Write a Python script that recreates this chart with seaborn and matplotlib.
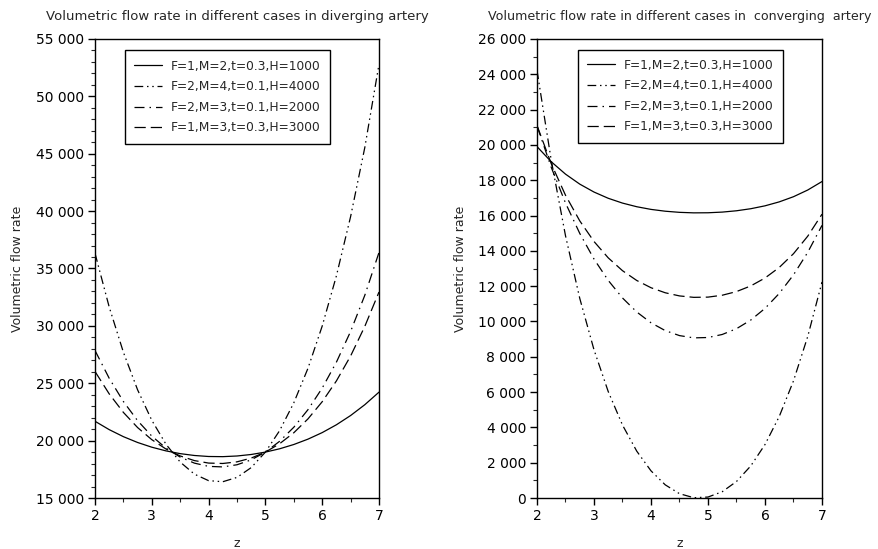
import numpy as np
import pandas as pd
import matplotlib
matplotlib.use("Agg")
import matplotlib.pyplot as plt
from matplotlib.ticker import FuncFormatter, MultipleLocator
import seaborn as sns

# ---------------- data ----------------
z = [2.0, 2.25, 2.5, 2.75, 3.0, 3.25, 3.5, 3.75, 4.0, 4.25, 4.5,
     4.75, 5.0, 5.25, 5.5, 5.75, 6.0, 6.25, 6.5, 6.75, 7.0]

labels = ["F=1,M=2,t=0.3,H=1000", "F=2,M=4,t=0.1,H=4000",
          "F=2,M=3,t=0.1,H=2000", "F=1,M=3,t=0.3,H=3000"]

# diverging artery
div_h1000 = [21688, 20958, 20345, 19838, 19427, 19105, 18866, 18705, 18617, 18603, 18661,
             18792, 19000, 19288, 19662, 20130, 20699, 21381, 22187, 23130, 24225]
div_h4000 = [36326, 31644, 27698, 24426, 21770, 19684, 18130, 17079, 16512, 16418, 16795,
             17650, 19000, 20869, 23292, 26312, 29982, 34359, 39521, 45543, 52800]
div_h2000 = [27855, 25434, 23409, 21740, 20394, 19343, 18564, 18039, 17756, 17709, 17897,
             18324, 19000, 19940, 21165, 22701, 24579, 26836, 29515, 32665, 36400]
div_h3000 = [26027, 24074, 22458, 21138, 20083, 19266, 18664, 18260, 18043, 18008, 18151,
             18479, 19000, 19729, 20686, 21896, 23390, 25203, 27376, 29956, 32950]

# converging artery
con_h1000 = [19905, 19046, 18346, 17780, 17331, 16977, 16705, 16499, 16348, 16245, 16181,
             16152, 16157, 16195, 16270, 16386, 16550, 16774, 17067, 17446, 17926]
con_h4000 = [24224, 19127, 14857, 11310, 8394, 6025, 4132, 2653, 1538, 745, 244,
             17, 54, 356, 936, 1816, 3029, 4618, 6637, 9152, 12236]
con_h2000 = [21081, 18730, 16710, 14989, 13536, 12324, 11331, 10537, 9925, 9482, 9199,
             9070, 9091, 9263, 9590, 10079, 10740, 11588, 12640, 13917, 15443]
con_h3000 = [21102, 18934, 17151, 15699, 14530, 13602, 12876, 12321, 11911, 11625, 11447,
             11366, 11379, 11486, 11693, 12013, 12461, 13060, 13839, 14832, 16076]

titles = ["Volumetric flow rate in different cases in diverging artery",
          "Volumetric flow rate in different cases in  converging  artery"]

# ---------------- style ----------------
sns.set_style("ticks")
plt.rcParams["font.family"] = ["DejaVu Sans"]
plt.rcParams["axes.linewidth"] = 1.0

dashes = ["-", (0, (7, 3, 1.2, 3, 1.2, 3)), (0, (8, 4, 1.2, 4)), (0, (9, 4))]

fig = plt.figure(figsize=(8.79, 5.49), dpi=100)
W, H = 879, 549
axL = fig.add_axes([95 / W, 1 - 498 / H, (379 - 95) / W, (498 - 39) / H])
axR = fig.add_axes([537 / W, 1 - 498 / H, (822 - 537) / W, (498 - 39) / H])

fmt = FuncFormatter(lambda v, p: f"{int(round(v)):,}".replace(",", " "))


def draw(ax, series, ylim, ymajor, yminor, title, title_size, legend_anchor, ylabel_x):
    frames = []
    for lab, vals in zip(labels, series):
        frames.append(pd.DataFrame({"z": z, "Q": vals, "case": lab}))
    df = pd.concat(frames, ignore_index=True)
    for lab, ls in zip(labels, dashes):
        sub = df[df["case"] == lab]
        sns.lineplot(data=sub, x="z", y="Q", ax=ax, color="black", lw=0.9,
                     linestyle=ls, label=lab, estimator=None, sort=False)
    ax.set_xlim(2, 7)
    ax.set_ylim(*ylim)
    ax.xaxis.set_major_locator(MultipleLocator(1))
    ax.xaxis.set_minor_locator(MultipleLocator(0.5))
    ax.yaxis.set_major_locator(MultipleLocator(ymajor))
    ax.yaxis.set_minor_locator(MultipleLocator(yminor))
    ax.yaxis.set_major_formatter(fmt)
    ax.tick_params(which="major", direction="out", length=5, width=1,
                   labelsize=10, colors="black", pad=3)
    ax.tick_params(which="minor", direction="out", length=3, width=0.8)
    ax.tick_params(top=False, right=False)
    for s in ax.spines.values():
        s.set_visible(True)
        s.set_color("black")
    ax.set_xlabel("z", fontsize=9)
    ax.xaxis.set_label_coords(0.5, -0.085)
    ax.set_ylabel("Volumetric flow rate", fontsize=9)
    ax.yaxis.set_label_coords(ylabel_x, 0.5)
    ax.set_title(title, fontsize=title_size, pad=14)
    leg = ax.legend(loc="upper left", bbox_to_anchor=legend_anchor, fontsize=8.8,
                    frameon=True, fancybox=False, edgecolor="black", framealpha=1,
                    handlelength=2.3, handletextpad=0.7, borderpad=0.75,
                    labelspacing=0.62, borderaxespad=0)
    leg.get_frame().set_linewidth(1.0)


draw(axL, [div_h1000, div_h4000, div_h2000, div_h3000], (15000, 55000), 5000, 1000,
     titles[0], 9.5, (0.106, 0.975), -0.25)
draw(axR, [con_h1000, con_h4000, con_h2000, con_h3000], (0, 26000), 2000, 1000,
     titles[1], 9.1, (0.144, 0.977), -0.245)

fig.savefig("out.png", dpi=100)
